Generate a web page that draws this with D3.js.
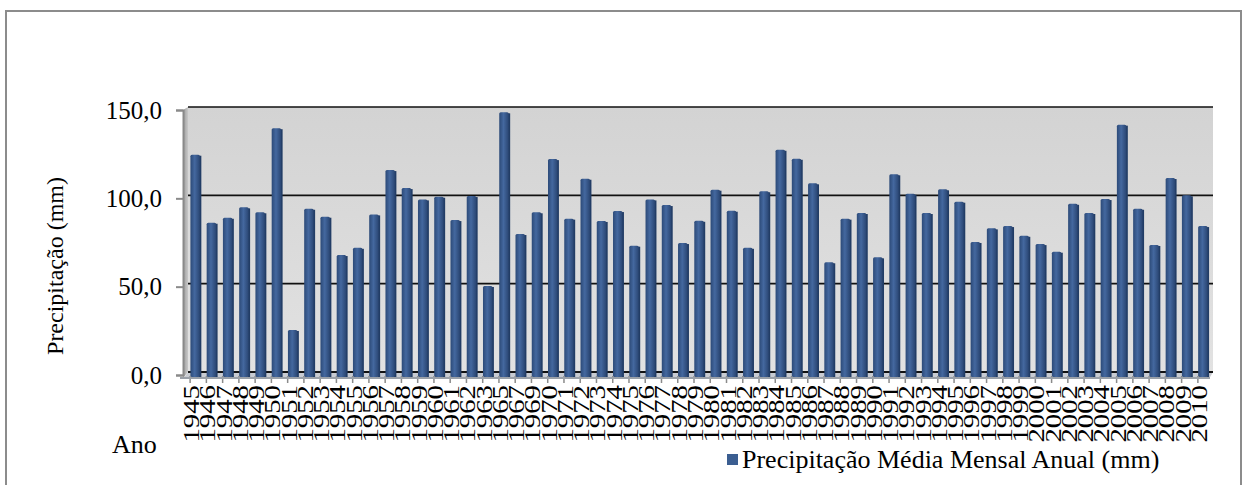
<!DOCTYPE html>
<html><head><meta charset="utf-8">
<script src="https://cdn.jsdelivr.net/npm/d3@7"></script>
<style>
body{margin:0;background:#fff;}
</style></head>
<body>
<svg id="chart" width="1244" height="485"></svg>
<script>
const years = ["1945","1946","1947","1948","1949","1950","1951","1952","1953","1954","1955","1956","1957","1958","1959","1960","1961","1962","1963","1965","1967","1969","1970","1971","1972","1973","1974","1975","1976","1977","1978","1979","1980","1981","1982","1983","1984","1985","1986","1987","1988","1989","1990","1991","1992","1993","1994","1995","1996","1997","1998","1999","2000","2001","2002","2003","2004","2005","2006","2007","2008","2009","2010"];
const values = [123,84.5,87.3,93.2,90.4,138,23.8,92.4,87.9,66.2,70.3,89.2,114.3,104.1,97.7,99.2,86,99.6,48.7,147,78.1,90.4,120.5,86.8,109.4,85.5,91.1,71.5,97.7,94.5,73,85.6,103.2,91.3,70.3,102.3,125.8,120.7,106.8,62.1,86.8,90,64.9,111.9,100.9,90,103.4,96.4,73.6,81.3,82.6,77.1,72.4,68.1,95.2,90,97.9,140,92.4,71.9,109.8,100,82.6];
const yTicks = [0,50,100,150];
const seriesName = "Precipitação Média Mensal Anual (mm)";
const yTitle = "Precipitação (mm)";
const xTitle = "Ano";

const FONT = "'Liberation Serif', 'Times New Roman', Tinos, 'DejaVu Serif', serif";

const svg = d3.select("#chart");
const defs = svg.append("defs");

const wallGrad = defs.append("linearGradient").attr("id","wall").attr("x1",0).attr("y1",0).attr("x2",0).attr("y2",1);
wallGrad.append("stop").attr("offset","0%").attr("stop-color","#d3d3d3");
wallGrad.append("stop").attr("offset","100%").attr("stop-color","#e2e2e2");

const barGrad = defs.append("linearGradient").attr("id","bar").attr("x1",0).attr("y1",0).attr("x2",1).attr("y2",0);
barGrad.append("stop").attr("offset","0%").attr("stop-color","#2c4a78");
barGrad.append("stop").attr("offset","45%").attr("stop-color","#44689f");
barGrad.append("stop").attr("offset","100%").attr("stop-color","#2a4673");

const sideGrad = defs.append("linearGradient").attr("id","side").attr("x1",0).attr("y1",0).attr("x2",1).attr("y2",0);
sideGrad.append("stop").attr("offset","0%").attr("stop-color","#9a9a9a");
sideGrad.append("stop").attr("offset","100%").attr("stop-color","#c8c8c8");

// outer frame
svg.append("rect").attr("x",6).attr("y",11).attr("width",1235).attr("height",490)
  .attr("fill","none").attr("stroke","#8c8c8c").attr("stroke-width",2);

const wallLeft = 188, wallRight = 1213;
const yWall = d3.scaleLinear().domain([0,150]).range([372,107]);
const yAxisScale = d3.scaleLinear().domain([0,150]).range([375,110]);
const x = d3.scaleBand().domain(years).range([187,1211]).paddingInner(0.42).paddingOuter(0.21);

// back wall
svg.append("rect").attr("x",wallLeft).attr("y",yWall(150)).attr("width",wallRight-wallLeft)
  .attr("height",yWall(0)-yWall(150)).attr("fill","url(#wall)");
// side wall
svg.append("polygon").attr("points",`183,${yAxisScale(150)} ${wallLeft},${yWall(150)} ${wallLeft},${yWall(0)} 183,${yAxisScale(0)+3}`)
  .attr("fill","url(#side)");
// floor
svg.append("polygon").attr("points",`${wallLeft},${yWall(0)} ${wallRight},${yWall(0)} ${wallRight-4},${yWall(0)+7} 183,${yWall(0)+7}`)
  .attr("fill","#c9ccd2");

// gridlines
svg.append("g").selectAll("line").data(yTicks).join("line")
  .attr("x1",wallLeft).attr("x2",wallRight)
  .attr("y1",d=>yWall(d)).attr("y2",d=>yWall(d))
  .attr("stroke","#111").attr("stroke-width",d=>d===0?2:1.6);

// bars
const bw = x.bandwidth();
const bars = svg.append("g");
bars.selectAll("rect.side").data(values).join("rect").attr("class","side")
  .attr("x",(d,i)=>x(years[i])+bw-1).attr("width",2.5)
  .attr("y",d=>yWall(d)+1).attr("height",d=>yWall(0)+5-yWall(d)-1)
  .attr("fill","#223d66");
bars.selectAll("rect.front").data(values).join("rect").attr("class","front")
  .attr("x",(d,i)=>x(years[i])).attr("width",bw)
  .attr("y",d=>yWall(d)).attr("height",d=>yWall(0)+5-yWall(d))
  .attr("fill","url(#bar)").attr("rx",1.5);

// y axis
const yAxis = d3.axisLeft(yAxisScale).tickValues(yTicks).tickSize(7).tickPadding(14)
  .tickFormat(d=>d3.format(".1f")(d).replace(".",","));
const gy = svg.append("g").attr("transform","translate(183,0)").call(yAxis)
  .attr("font-family",FONT).attr("font-size",25);
gy.select(".domain").attr("stroke","#8a8a8a").attr("stroke-width",2);
gy.selectAll(".tick line").attr("stroke","#8a8a8a").attr("stroke-width",2);
gy.selectAll(".tick text").attr("fill","#000");

// x axis ticks
svg.append("g").selectAll("line").data(years).join("line")
  .attr("x1",d=>x(d)+bw/2-5).attr("x2",d=>x(d)+bw/2-5)
  .attr("y1",376).attr("y2",383).attr("stroke","#8a8a8a").attr("stroke-width",1.5);
svg.append("line").attr("x1",180).attr("x2",1210).attr("y1",378).attr("y2",378)
  .attr("stroke","#9aa0a8").attr("stroke-width",2);

// x labels
svg.append("g").attr("font-family",FONT).selectAll("text").data(years).join("text")
  .attr("transform",d=>`translate(${x(d)+bw/2+4},385) rotate(-90) scale(1.2,1)`)
  .attr("text-anchor","end").attr("font-size",24).text(d=>d);

// titles
svg.append("text").attr("font-family",FONT).attr("transform","translate(63,266) rotate(-90)").attr("text-anchor","middle")
  .attr("font-size",24).text(yTitle);
svg.append("text").attr("font-family",FONT).attr("x",112).attr("y",453).attr("font-size",26).text(xTitle);

// legend
svg.append("rect").attr("x",727).attr("y",454).attr("width",11).attr("height",11).attr("fill","#3b5e91");
svg.append("text").attr("font-family",FONT).attr("x",742).attr("y",468).attr("font-size",26).text(seriesName);
</script>
</body></html>
